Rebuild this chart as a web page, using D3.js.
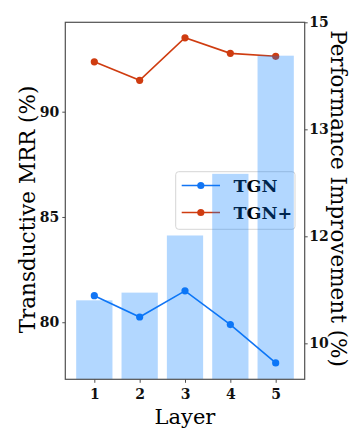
<!DOCTYPE html>
<html>
<head>
<meta charset="utf-8">
<script src="https://cdn.jsdelivr.net/npm/d3@7"></script>
<style>
  html, body { margin: 0; padding: 0; background: #fff; }
  svg { display: block; }
</style>
</head>
<body>
<script>
// ---- data ----
const layers = [1, 2, 3, 4, 5];
const tgnMRR = [81.26, 80.25, 81.49, 79.89, 78.07];
const tgnPlusMRR = [92.37, 91.49, 93.51, 92.77, 92.63];
const improvement = [10.67, 10.79, 11.68, 12.64, 14.48];
const leftTicks = [80, 85, 90];
const rightTicks = [10, 11.667, 13.333, 15];
const seriesNames = ["TGN", "TGN+"];

const W = 363, H = 436;
const m = { left: 65.3, right: 304.7, top: 22.3, bottom: 379.3 };
const serif = "'DejaVu Serif', serif";

const svg = d3.select("body").append("svg").attr("width", W).attr("height", H);

const x = d3.scaleLinear().domain([0.36, 5.64]).range([m.left, m.right]);
const yL = d3.scaleLinear().domain([77.29, 94.245]).range([m.bottom, m.top]);
const yR = d3.scaleLinear().domain([9.44, 15.0]).range([m.bottom, m.top]);

const colors = ["#1275f4", "#cf3c10"];
const axisColor = "#505050";

// ---- lines (lower layer) ----
const line = d3.line().x((d, i) => x(layers[i])).y(d => yL(d));
[tgnMRR, tgnPlusMRR].forEach((s, k) => {
  svg.append("path").datum(s).attr("d", line)
    .attr("fill", "none").attr("stroke", colors[k]).attr("stroke-width", 1.6);
  svg.selectAll(null).data(s).enter().append("circle")
    .attr("cx", (d, i) => x(layers[i])).attr("cy", d => yL(d))
    .attr("r", 3.6).attr("fill", colors[k]);
});

// ---- legend (lower layer) ----
const lg = svg.append("g");
lg.append("rect").attr("x", 175.7).attr("y", 171.7).attr("width", 119.3).attr("height", 57.6)
  .attr("rx", 3).attr("fill", "rgba(255,255,255,0.8)").attr("stroke", "#d6d6d6").attr("stroke-width", 1);
seriesNames.forEach((name, k) => {
  const yy = 185.5 + k * 27;
  lg.append("line").attr("x1", 181.7).attr("x2", 220).attr("y1", yy).attr("y2", yy)
    .attr("stroke", colors[k]).attr("stroke-width", 1.6);
  lg.append("circle").attr("cx", 200.8).attr("cy", yy).attr("r", 3.6).attr("fill", colors[k]);
  lg.append("text").attr("x", 233.5).attr("y", yy).attr("dy", "0.36em")
    .attr("font-family", serif).attr("font-weight", "bold").attr("font-size", 17.5)
    .attr("fill", "#000").text(name);
});

// ---- bars (upper layer, translucent) ----
svg.selectAll(".bar").data(improvement).enter().append("rect")
  .attr("x", (d, i) => x(layers[i] - 0.4))
  .attr("width", x(0.8) - x(0))
  .attr("y", d => yR(d))
  .attr("height", d => yR.range()[0] - yR(d))
  .attr("fill", "rgb(0,122,255)").attr("fill-opacity", 0.3);

// ---- axes ----
function styleAxis(g) {
  g.select(".domain").remove();
  g.selectAll(".tick line").attr("stroke", axisColor).attr("stroke-width", 1);
  g.selectAll(".tick text").attr("font-family", serif).attr("font-weight", "bold")
    .attr("font-size", 14).attr("fill", "#111");
}
svg.append("g").attr("transform", `translate(${m.left},0)`)
  .call(d3.axisLeft(yL).tickValues(leftTicks).tickSize(3).tickPadding(3).tickFormat(d3.format("d")))
  .call(styleAxis);
svg.append("g").attr("transform", `translate(${m.right},0)`)
  .call(d3.axisRight(yR).tickValues(rightTicks).tickSize(3).tickPadding(1.5).tickFormat(d3.format(".0f")))
  .call(styleAxis);
svg.append("g").attr("transform", `translate(0,${m.bottom})`)
  .call(d3.axisBottom(x).tickValues(layers).tickSize(3.5).tickPadding(6).tickFormat(d3.format("d")))
  .call(styleAxis);

// frame
svg.append("rect").attr("x", m.left).attr("y", m.top)
  .attr("width", m.right - m.left).attr("height", m.bottom - m.top)
  .attr("fill", "none").attr("stroke", axisColor).attr("stroke-width", 1.2);

// ---- axis labels ----
svg.append("text").attr("x", (m.left + m.right) / 2).attr("y", 424)
  .attr("text-anchor", "middle").attr("font-family", serif).attr("font-size", 21)
  .attr("fill", "#000").text("Layer");
svg.append("text").attr("transform", `translate(34.5,209.5) rotate(-90)`)
  .attr("text-anchor", "middle").attr("font-family", serif).attr("font-size", 21.5)
  .attr("fill", "#000").text("Transductive MRR (%)");
svg.append("text").attr("transform", `translate(331,198.5) rotate(90)`)
  .attr("text-anchor", "middle").attr("font-family", serif).attr("font-size", 21.5)
  .attr("fill", "#000").text("Performance Improvement (%)");
</script>
</body>
</html>
